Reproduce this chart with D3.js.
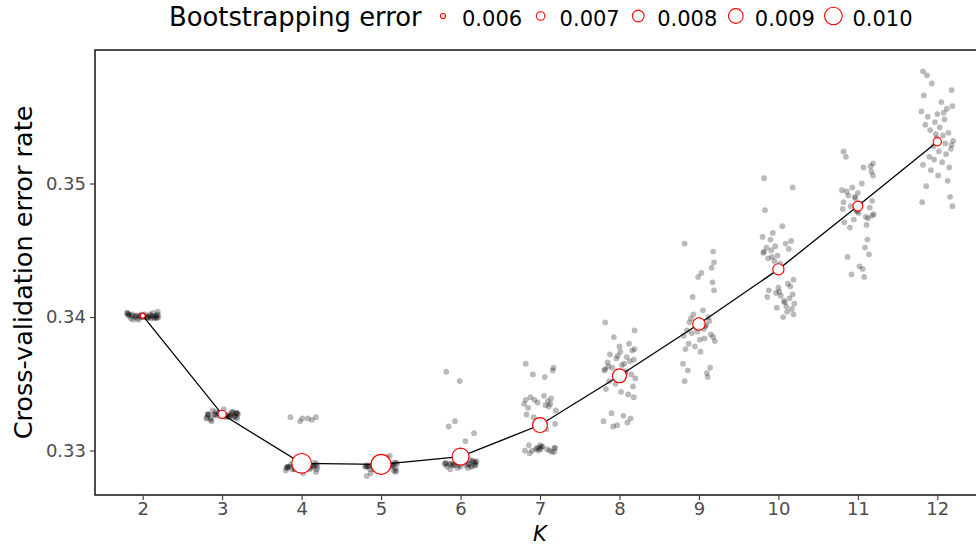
<!DOCTYPE html>
<html>
<head>
<meta charset="utf-8">
<script src="https://cdn.jsdelivr.net/npm/d3@7"></script>
<style>
    body { margin: 0; background: #fff; }
    svg { display: block; font-family: "DejaVu Sans", sans-serif; }
</style>
</head>
<body>
<div id="chart"></div>
<script>
/* number of folds K on the x-axis */
const kValues = [2, 3, 4, 5, 6, 7, 8, 9, 10, 11, 12];

/* mean cross-validation error per K (line + white circles) */
const meanError = [0.34010, 0.33271, 0.32904, 0.32897, 0.32954, 0.33191, 0.33560, 0.33948, 0.34357, 0.34831, 0.35313];

/* bootstrapping error per K (circle size) */
const bootError = [0.0057, 0.0066, 0.0104, 0.0105, 0.0094, 0.0087, 0.0084, 0.0079, 0.0075, 0.0071, 0.0066];

/* legend breaks */
const legendBreaks = [0.006, 0.007, 0.008, 0.009, 0.010];

/* y-axis ticks */
const yTicks = [0.33, 0.34, 0.35];

/* horizontal jitter (in K units) applied to the repeated runs */
const jitterOffsets = [-0.18, 0.05, 0.19, -0.07, 0.12, -0.20, 0.00, 0.16, -0.12, 0.09,
    -0.03, 0.18, -0.15, 0.03, -0.09, 0.14, -0.19, 0.07, -0.01, 0.20,
    -0.13, 0.10, -0.05, 0.17, -0.17, 0.02, 0.11, -0.10, 0.19, -0.04,
    0.06, -0.18, 0.15, -0.08, 0.01, 0.13, -0.14, 0.08, -0.02, 0.18];

/* repeated cross-validation runs, one array per K */
const runsK2 = [0.3401, 0.3400, 0.3402, 0.3399, 0.3401, 0.3403, 0.3400, 0.3401, 0.3398, 0.3402,
    0.3400, 0.3401, 0.3399, 0.3402, 0.3401, 0.3400, 0.3403, 0.3399, 0.3401, 0.3400,
    0.3402, 0.3401, 0.3398, 0.3400, 0.3402, 0.3401, 0.3399, 0.3400, 0.3404, 0.3401,
    0.3400, 0.3402, 0.3399, 0.3401, 0.3400, 0.3403, 0.3401, 0.3400, 0.3402, 0.3399];
const runsK3 = [0.3327, 0.3325, 0.3328, 0.3326, 0.3329, 0.3324, 0.3327, 0.3326, 0.3330, 0.3325,
    0.3327, 0.3328, 0.3323, 0.3326, 0.3327, 0.3329, 0.3325, 0.3326, 0.3328, 0.3327,
    0.3322, 0.3326, 0.3328, 0.3325, 0.3327, 0.3331, 0.3326, 0.3327, 0.3324, 0.3328,
    0.3326, 0.3327, 0.3325, 0.3329, 0.3326, 0.3328, 0.3324, 0.3327, 0.3326, 0.3328];
const runsK4 = [0.3288, 0.3286, 0.3290, 0.3287, 0.3289, 0.3285, 0.3288, 0.3291, 0.3286, 0.3289,
    0.3287, 0.3284, 0.3288, 0.3290, 0.3286, 0.3288, 0.3287, 0.3289, 0.3285, 0.3288,
    0.3290, 0.3286, 0.3287, 0.3289, 0.3288, 0.3283, 0.3287, 0.3289, 0.3286, 0.3288,
    0.3290, 0.3287, 0.3288, 0.3286, 0.3324, 0.3323, 0.3325, 0.3324, 0.3322, 0.3325];
const runsK5 = [0.3289, 0.3287, 0.3291, 0.3286, 0.3290, 0.3288, 0.3293, 0.3285, 0.3289, 0.3287,
    0.3290, 0.3284, 0.3288, 0.3292, 0.3286, 0.3289, 0.3288, 0.3295, 0.3287, 0.3290,
    0.3283, 0.3289, 0.3286, 0.3291, 0.3288, 0.3287, 0.3296, 0.3289, 0.3285, 0.3290,
    0.3288, 0.3281, 0.3289, 0.3287, 0.3291, 0.3288, 0.3286, 0.3290, 0.3289, 0.3287];
const runsK6 = [0.3359, 0.3291, 0.3289, 0.3322, 0.3293, 0.3290, 0.3288, 0.3292, 0.3290, 0.3287,
    0.3291, 0.3289, 0.3318, 0.3294, 0.3290, 0.3288, 0.3291, 0.3289, 0.3352, 0.3292,
    0.3286, 0.3290, 0.3291, 0.3313, 0.3288, 0.3293, 0.3290, 0.3289, 0.3291, 0.3287,
    0.3307, 0.3290, 0.3292, 0.3289, 0.3291, 0.3288, 0.3290, 0.3296, 0.3289, 0.3291];
const runsK7 = [0.3365, 0.3341, 0.3302, 0.3338, 0.3300, 0.3335, 0.3304, 0.3360, 0.3340, 0.3301,
    0.3336, 0.3299, 0.3332, 0.3303, 0.3357, 0.3339, 0.3300, 0.3334, 0.3302, 0.3330,
    0.3298, 0.3337, 0.3301, 0.3362, 0.3327, 0.3303, 0.3333, 0.3300, 0.3320, 0.3302,
    0.3355, 0.3338, 0.3299, 0.3325, 0.3301, 0.3335, 0.3304, 0.3316, 0.3300, 0.3302];
const runsK8 = [0.3396, 0.3326, 0.3390, 0.3385, 0.3380, 0.3322, 0.3378, 0.3375, 0.3372, 0.3370,
    0.3319, 0.3368, 0.3366, 0.3364, 0.3362, 0.3324, 0.3360, 0.3358, 0.3356, 0.3354,
    0.3352, 0.3321, 0.3350, 0.3348, 0.3346, 0.3344, 0.3342, 0.3328, 0.3376, 0.3369,
    0.3365, 0.3361, 0.3357, 0.3318, 0.3374, 0.3367, 0.3363, 0.3359, 0.3371, 0.3340];
const runsK9 = [0.3455, 0.3405, 0.3441, 0.3402, 0.3400, 0.3365, 0.3398, 0.3437, 0.3396, 0.3394,
    0.3392, 0.3449, 0.3390, 0.3433, 0.3388, 0.3362, 0.3386, 0.3384, 0.3430, 0.3382,
    0.3380, 0.3358, 0.3378, 0.3426, 0.3376, 0.3374, 0.3355, 0.3399, 0.3420, 0.3395,
    0.3391, 0.3352, 0.3387, 0.3415, 0.3383, 0.3397, 0.3360, 0.3393, 0.3389, 0.3385];
const runsK10 = [0.3504, 0.3468, 0.3428, 0.3463, 0.3425, 0.3460, 0.3422, 0.3457, 0.3420, 0.3455,
    0.3418, 0.3497, 0.3452, 0.3416, 0.3450, 0.3414, 0.3448, 0.3412, 0.3446, 0.3410,
    0.3444, 0.3408, 0.3442, 0.3406, 0.3480, 0.3440, 0.3404, 0.3458, 0.3402, 0.3453,
    0.3400, 0.3449, 0.3423, 0.3445, 0.3419, 0.3451, 0.3415, 0.3411, 0.3407, 0.3417];
const runsK11 = [0.3524, 0.3500, 0.3515, 0.3497, 0.3458, 0.3495, 0.3493, 0.3513, 0.3491, 0.3452,
    0.3489, 0.3487, 0.3520, 0.3485, 0.3483, 0.3447, 0.3481, 0.3512, 0.3479, 0.3477,
    0.3445, 0.3475, 0.3473, 0.3509, 0.3471, 0.3438, 0.3469, 0.3467, 0.3506, 0.3490,
    0.3436, 0.3486, 0.3482, 0.3432, 0.3478, 0.3474, 0.3494, 0.3430, 0.3480, 0.3476];
const runsK12 = [0.3584, 0.3561, 0.3558, 0.3575, 0.3556, 0.3554, 0.3552, 0.3490, 0.3550, 0.3548,
    0.3546, 0.3570, 0.3544, 0.3542, 0.3540, 0.3538, 0.3486, 0.3536, 0.3534, 0.3532,
    0.3581, 0.3530, 0.3528, 0.3526, 0.3566, 0.3524, 0.3522, 0.3520, 0.3483, 0.3518,
    0.3516, 0.3514, 0.3512, 0.3510, 0.3506, 0.3502, 0.3498, 0.3553, 0.3537, 0.3529];

const runsByK = [runsK2, runsK3, runsK4, runsK5, runsK6, runsK7, runsK8, runsK9, runsK10, runsK11, runsK12];

/* layout */
const W = 976, H = 552;
const panel = { left: 95, top: 50, right: 985, bottom: 495 };

const svg = d3.select("#chart").append("svg")
    .attr("width", W)
    .attr("height", H);

svg.append("rect").attr("width", W).attr("height", H).attr("fill", "#fff");

/* scales */
const xScale = d3.scaleLinear()
    .domain([1.4, 12.6])
    .range([panel.left, panel.right]);

const yScale = d3.scaleLinear()
    .domain([0.32667, 0.36])
    .range([panel.bottom, panel.top]);

const rScale = d3.scalePow().exponent(0.5)
    .domain([0.0057, 0.0105])
    .range([2.5, 10]);

/* flatten runs into points */
const runPoints = [];
kValues.forEach((k, i) => {
    runsByK[i].forEach((v, j) => {
        runPoints.push({ k: k + jitterOffsets[j % jitterOffsets.length], v: v });
    });
});

const meanData = kValues.map((k, i) => ({ k: k, v: meanError[i], b: bootError[i] }));

/* clip to panel */
svg.append("clipPath").attr("id", "panelClip")
    .append("rect")
    .attr("x", panel.left).attr("y", panel.top)
    .attr("width", panel.right - panel.left)
    .attr("height", panel.bottom - panel.top);

const plot = svg.append("g").attr("clip-path", "url(#panelClip)");

/* jittered runs */
plot.append("g").attr("id", "runs")
    .selectAll("circle")
    .data(runPoints)
    .join("circle")
    .attr("cx", d => xScale(d.k))
    .attr("cy", d => yScale(d.v))
    .attr("r", 2.9)
    .attr("fill", "#000")
    .attr("fill-opacity", 0.27);

/* mean line */
const line = d3.line()
    .x(d => xScale(d.k))
    .y(d => yScale(d.v));

plot.append("path")
    .datum(meanData)
    .attr("d", line)
    .attr("fill", "none")
    .attr("stroke", "#000")
    .attr("stroke-width", 1.3);

/* mean circles sized by bootstrapping error */
plot.append("g").attr("id", "means")
    .selectAll("circle")
    .data(meanData)
    .join("circle")
    .attr("cx", d => xScale(d.k))
    .attr("cy", d => yScale(d.v))
    .attr("r", d => rScale(d.b))
    .attr("fill", "#fff")
    .attr("stroke", "#ff0000")
    .attr("stroke-width", 1.2);

/* panel border */
svg.append("rect")
    .attr("x", panel.left).attr("y", panel.top)
    .attr("width", panel.right - panel.left)
    .attr("height", panel.bottom - panel.top)
    .attr("fill", "none")
    .attr("stroke", "#000")
    .attr("stroke-width", 1.4);

/* x axis */
const xAxisG = svg.append("g")
    .attr("transform", `translate(0, ${panel.bottom})`)
    .call(d3.axisBottom(xScale).tickValues(kValues).tickSize(5).tickPadding(2).tickFormat(d3.format("d")));
xAxisG.select(".domain").remove();
xAxisG.selectAll(".tick line").attr("stroke", "#333").attr("stroke-width", 1.1);
xAxisG.selectAll(".tick text")
    .attr("fill", "#4d4d4d")
    .style("font-size", "18px")
    .style("font-family", "DejaVu Sans");

/* y axis */
const yAxisG = svg.append("g")
    .attr("transform", `translate(${panel.left}, 0)`)
    .call(d3.axisLeft(yScale).tickValues(yTicks).tickSize(5).tickPadding(4).tickFormat(d3.format(".2f")));
yAxisG.select(".domain").remove();
yAxisG.selectAll(".tick line").attr("stroke", "#333").attr("stroke-width", 1.1);
yAxisG.selectAll(".tick text")
    .attr("fill", "#4d4d4d")
    .style("font-size", "18px")
    .style("font-family", "DejaVu Sans");

/* axis titles */
svg.append("text")
    .attr("x", xScale(7))
    .attr("y", 541)
    .attr("text-anchor", "middle")
    .style("font-size", "21px")
    .style("font-style", "italic")
    .text("K");

svg.append("text")
    .attr("transform", `translate(32, ${(panel.top + panel.bottom) / 2}) rotate(-90)`)
    .attr("text-anchor", "middle")
    .style("font-size", "25.5px")
    .text("Cross-validation error rate");

/* legend */
const legend = svg.append("g").attr("id", "legend");
legend.append("text")
    .attr("x", 169)
    .attr("y", 26)
    .style("font-size", "25.8px")
    .text("Bootstrapping error");

const legendItems = legend.selectAll("g.item")
    .data(legendBreaks)
    .join("g")
    .attr("class", "item")
    .attr("transform", (d, i) => `translate(${443 + i * 97.6}, 16)`);

legendItems.append("circle")
    .attr("r", d => rScale(d) - 0.5)
    .attr("fill", "#fff")
    .attr("stroke", "#ff0000")
    .attr("stroke-width", 1.1);

legendItems.append("text")
    .attr("x", 19)
    .attr("y", 10)
    .style("font-size", "21px")
    .text(d => d3.format(".3f")(d));
</script>
</body>
</html>
